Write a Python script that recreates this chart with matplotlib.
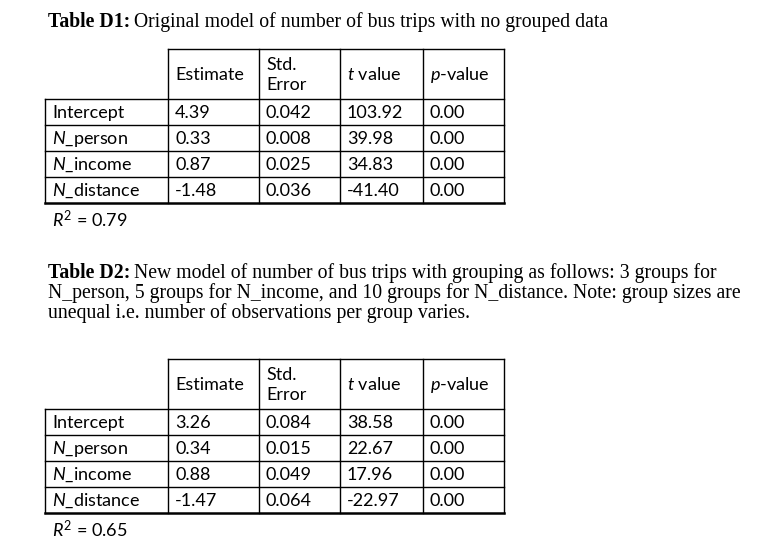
import matplotlib
matplotlib.use("Agg")
import matplotlib.pyplot as plt

plt.rcParams["mathtext.fontset"] = "custom"
plt.rcParams["mathtext.rm"] = "Lato"
plt.rcParams["mathtext.it"] = "Lato:italic"

# data
columns = ["Estimate", "Std.\nError", "$t$ value", "$p$-value"]
row_labels = ["Intercept", "$N$_person", "$N$_income", "$N$_distance"]
d1_values = [["4.39", "0.042", "103.92", "0.00"],
             ["0.33", "0.008", "39.98", "0.00"],
             ["0.87", "0.025", "34.83", "0.00"],
             ["-1.48", "0.036", "-41.40", "0.00"]]
d2_values = [["3.26", "0.084", "38.58", "0.00"],
             ["0.34", "0.015", "22.67", "0.00"],
             ["0.88", "0.049", "17.96", "0.00"],
             ["-1.47", "0.064", "-22.97", "0.00"]]
d1_r2 = "0.79"
d2_r2 = "0.65"

fig = plt.figure(figsize=(7.75, 5.53), dpi=100)
ax = fig.add_axes([0, 0, 1, 1])
ax.set_xlim(0, 775)
ax.set_ylim(553, 0)
ax.axis("off")
fig.canvas.draw()
renderer = fig.canvas.get_renderer()

SERIF = "Liberation Serif"
SANS = "Lato"
SERIF_FS = 14.2
SANS_FS = 13


def caption(x, y, bold, rest):
    t = ax.text(x, y, bold, fontfamily=SERIF, fontweight="bold", fontsize=SERIF_FS,
                va="center", ha="left")
    w = t.get_window_extent(renderer=renderer).width
    ax.text(x + w + 4, y, rest, fontfamily=SERIF, fontsize=SERIF_FS, va="center", ha="left")


xs = [45, 168, 259, 340, 423, 504]


def draw_table(top, values, r2):
    hdr_bot = top + 50
    row_h = 26
    bottom = hdr_bot + row_h * len(values)
    lw = 1.0
    ax.plot([xs[1], xs[-1]], [top, top], color="black", lw=lw)
    ax.plot([xs[0], xs[-1]], [hdr_bot, hdr_bot], color="black", lw=lw)
    for i in range(1, len(values)):
        y = hdr_bot + i * row_h
        ax.plot([xs[0], xs[-1]], [y, y], color="black", lw=lw)
    ax.plot([xs[0], xs[-1]], [bottom, bottom], color="black", lw=1.8)
    ax.plot([xs[0], xs[0]], [hdr_bot, bottom], color="black", lw=lw)
    for x in xs[1:]:
        ax.plot([x, x], [top, bottom], color="black", lw=lw)
    for j, c in enumerate(columns):
        ax.text(xs[j + 1] + 7, (top + hdr_bot) / 2 + 1, c, fontfamily=SANS, fontsize=SANS_FS,
                va="center", ha="left", linespacing=1.25)
    for i, (lab, row) in enumerate(zip(row_labels, values)):
        yc = hdr_bot + i * row_h + row_h / 2 + 1
        ax.text(xs[0] + 7, yc, lab, fontfamily=SANS, fontsize=SANS_FS, va="center", ha="left")
        for j, v in enumerate(row):
            ax.text(xs[j + 1] + 7, yc, v, fontfamily=SANS, fontsize=SANS_FS,
                    va="center", ha="left")
    ax.text(xs[0] + 7, bottom + 16, r"$R^{\mathrm{2}}$ = " + r2, fontfamily=SANS,
            fontsize=SANS_FS, va="center", ha="left")


caption(48, 22, "Table D1:", "Original model of number of bus trips with no grouped data")
draw_table(49, d1_values, d1_r2)

caption(48, 273, "Table D2:", "New model of number of bus trips with grouping as follows: 3 groups for")
ax.text(48, 293, "N_person, 5 groups for N_income, and 10 groups for N_distance. Note: group sizes are",
        fontfamily=SERIF, fontsize=SERIF_FS, va="center", ha="left")
ax.text(48, 313, "unequal i.e. number of observations per group varies.",
        fontfamily=SERIF, fontsize=SERIF_FS, va="center", ha="left")
draw_table(359, d2_values, d2_r2)

fig.savefig("out.png", dpi=100, facecolor="white")
